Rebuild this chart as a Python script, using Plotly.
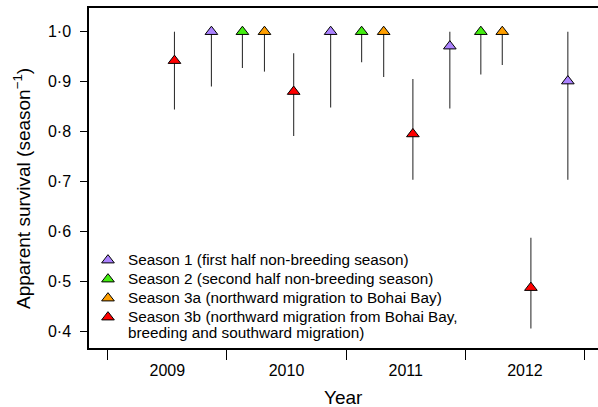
import plotly.graph_objects as go

# ---- data ----
season1_x = [2009.87, 2010.87, 2011.87, 2012.86]
season1_y = [1.0, 1.0, 0.971, 0.901]
season1_lo = [0.890, 0.848, 0.846, 0.703]
season1_hi = [1.0, 1.0, 1.0, 1.0]

season2_x = [2010.13, 2011.13, 2012.13]
season2_y = [1.0, 1.0, 1.0]
season2_lo = [0.927, 0.939, 0.914]
season2_hi = [1.0, 1.0, 1.0]

season3a_x = [2010.315, 2011.315, 2012.31]
season3a_y = [1.0, 1.0, 1.0]
season3a_lo = [0.920, 0.909, 0.933]
season3a_hi = [1.0, 1.0, 1.0]

season3b_x = [2009.56, 2010.56, 2011.56, 2012.55]
season3b_y = [0.942, 0.880, 0.795, 0.487]
season3b_lo = [0.844, 0.791, 0.703, 0.405]
season3b_hi = [1.0, 0.957, 0.905, 0.587]

year_ticks = [2009, 2010, 2011, 2012, 2013]
year_label_pos = [2009.5, 2010.5, 2011.5, 2012.5]
year_labels = ["2009", "2010", "2011", "2012"]
y_tickvals = [0.4, 0.5, 0.6, 0.7, 0.8, 0.9, 1.0]
y_ticktext = ["0·4", "0·5", "0·6", "0·7", "0·8", "0·9", "1·0"]

legend_names = [
    "Season 1 (first half non-breeding season)",
    "Season 2 (second half non-breeding season)",
    "Season 3a (northward migration to Bohai Bay)",
    "Season 3b (northward migration from Bohai Bay,<br>breeding and southward migration)",
]
colors = ["#AB82FF", "#44EE11", "#FF9F00", "#FF0000"]

series = [
    (season1_x, season1_y, season1_lo, season1_hi),
    (season2_x, season2_y, season2_lo, season2_hi),
    (season3a_x, season3a_y, season3a_lo, season3a_hi),
    (season3b_x, season3b_y, season3b_lo, season3b_hi),
]

FONT = "Liberation Sans, Arial, sans-serif"


def legend_label(s):
    return "<br>".join('<span style="font-size:15.3px">%s</span>' % part for part in s.split("<br>"))


fig = go.Figure()
for name, (xs, ys, lo, hi), col in zip(legend_names, series, colors):
    fig.add_trace(go.Scatter(
        x=xs, y=ys, mode="markers", name=legend_label(name),
        marker=dict(symbol="triangle-up", size=11, color=col,
                    line=dict(color="black", width=1)),
        error_y=dict(type="data", symmetric=False,
                     array=[h - v for h, v in zip(hi, ys)],
                     arrayminus=[v - l for v, l in zip(ys, lo)],
                     width=0, thickness=1.1, color="#333333"),
    ))

fig.update_layout(
    width=598, height=407,
    margin=dict(l=89, r=0, t=8, b=59),
    paper_bgcolor="white", plot_bgcolor="white",
    font=dict(family=FONT, color="black", size=16),
    showlegend=True,
    legend=dict(x=-0.002, y=0.301, xanchor="left", yanchor="top",
                bgcolor="rgba(0,0,0,0)", font=dict(size=12.3, family=FONT),
                valign="top", tracegroupgap=0, itemsizing="trace"),
    xaxis=dict(range=[2008.843, 2013.113], showgrid=False, zeroline=False,
               showline=True, linecolor="black", linewidth=1.5, mirror=True,
               tickmode="array", tickvals=year_label_pos, ticktext=year_labels,
               ticks="", tickfont=dict(size=16), ticklabelstandoff=7,
               minor=dict(tickmode="array", tickvals=year_ticks, ticks="outside",
                          ticklen=10, tickwidth=1, tickcolor="black", showgrid=False)),
    yaxis=dict(range=[0.366, 1.0475], showgrid=False, zeroline=False,
               showline=True, linecolor="black", linewidth=1.5,
               tickmode="array", tickvals=y_tickvals, ticktext=y_ticktext,
               ticks="outside", ticklen=7, tickwidth=1, tickcolor="black",
               tickfont=dict(size=16), ticklabelstandoff=6),
)

fig.add_annotation(text="Year", xref="paper", yref="paper", x=0.5, y=-0.146,
                   xanchor="center", yanchor="middle", showarrow=False,
                   font=dict(size=19, family=FONT))
fig.add_annotation(text="Apparent survival (season<sup>−1</sup>)", xref="paper", yref="paper",
                   x=-0.132, y=0.47, xanchor="center", yanchor="middle", textangle=-90,
                   showarrow=False, font=dict(size=19, family=FONT))

fig.write_html("out.html")
